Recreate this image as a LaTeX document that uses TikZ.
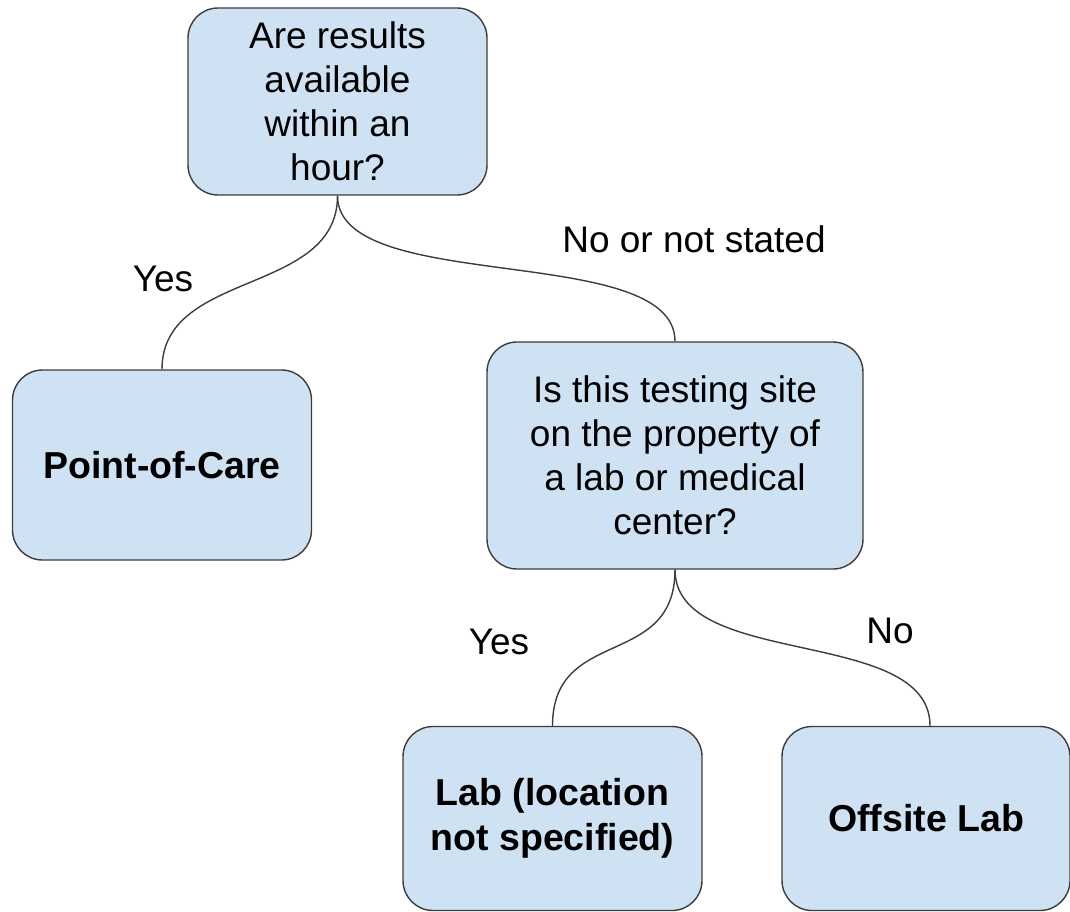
\documentclass[tikz,border=0pt]{standalone}
\usepackage{fontspec}
\setmainfont{Liberation Sans}
\definecolor{boxfill}{HTML}{CFE2F3}
\definecolor{edge}{HTML}{3C3C3C}
\tikzset{
  box/.style={draw=edge, line width=1.4pt, fill=boxfill, rounded corners=30pt, align=center, inner sep=0pt,
    font=\fontsize{37}{44}\selectfont},
  boldbox/.style={box, font=\fontsize{37.5}{45}\selectfont\bfseries},
  lbl/.style={font=\fontsize{37}{44}\selectfont, inner sep=0pt, anchor=center},
  conn/.style={draw=edge, line width=1.4pt}
}
\begin{document}
\begin{tikzpicture}[x=1pt,y=-1pt]
\useasboundingbox (0,0) rectangle (1070,911);
\clip (0,0) rectangle (1070,911);
\node[box, minimum width=299pt, minimum height=187pt] (q1) at (337.5,101.5) {Are results\\available\\within an\\hour?};
\node[boldbox, minimum width=299pt, minimum height=190pt] (poc) at (162,465) {Point-of-Care};
\node[box, minimum width=376pt, minimum height=227pt] (q2) at (675,455.5) {Is this testing site\\on the property of\\a lab or medical\\center?};
\node[boldbox, minimum width=299pt, minimum height=184pt] (lab) at (552.5,818.5) {Lab (location\\not specified)};
\node[boldbox, minimum width=288pt, minimum height=184pt] (off) at (926,818.5) {Offsite Lab};

\draw[conn] (q1.south) .. controls ([yshift=-100pt]q1.south) and ([yshift=100pt]poc.north) .. (poc.north);
\draw[conn] (q1.south) .. controls ([yshift=-100pt]q1.south) and ([yshift=100pt]q2.north) .. (q2.north);
\draw[conn] (q2.south) .. controls ([yshift=-100pt]q2.south) and ([yshift=100pt]lab.north) .. (lab.north);
\coordinate (offtop) at ([xshift=4pt]off.north);
\draw[conn] (q2.south) .. controls ([yshift=-100pt]q2.south) and ([yshift=100pt]offtop) .. (offtop);

\node[lbl] (l1) at (163,279) {Yes};
\node[lbl] (l2) at (694,239) {No or not stated};
\node[lbl] (l3) at (499,642) {Yes};
\node[lbl] (l4) at (890,631) {No};
\end{tikzpicture}
\end{document}
